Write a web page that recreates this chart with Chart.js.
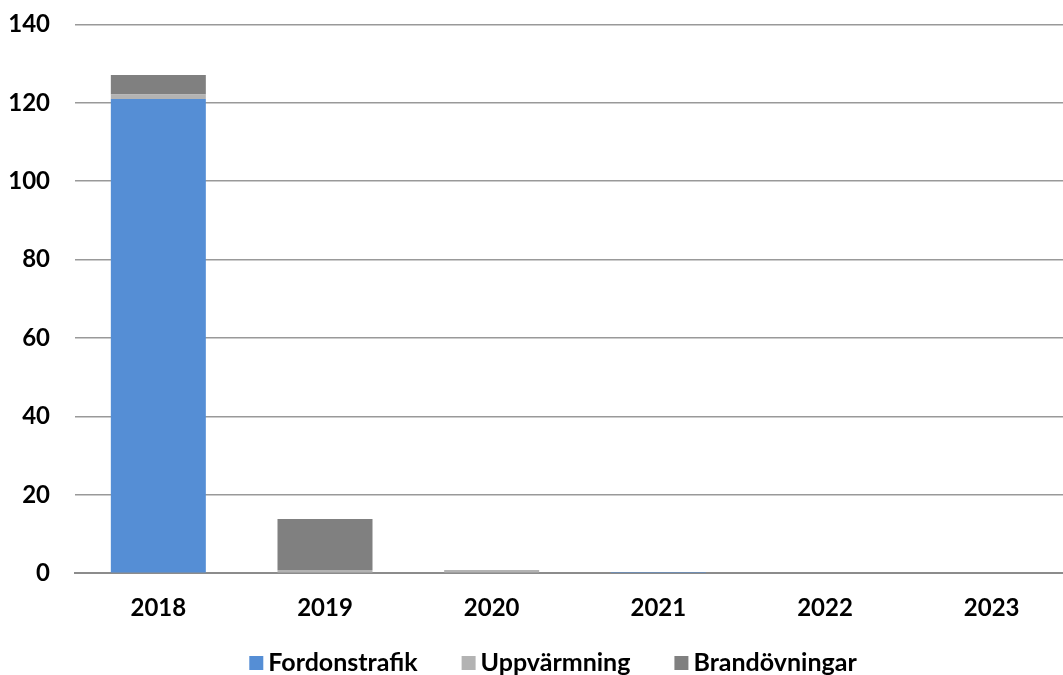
<!DOCTYPE html>
<html>
<head>
<meta charset="utf-8">
<script src="https://cdn.jsdelivr.net/npm/chart.js@4/dist/chart.umd.min.js"></script>
<style>
html,body{margin:0;padding:0;overflow:hidden;background:#fff;}
#wrap{position:absolute;left:0;top:-15px;width:1075px;height:690px;}
</style>
</head>
<body>
<div id="wrap"><canvas id="c"></canvas></div>
<script>
const categories = ["2018","2019","2020","2021","2022","2023"];
const fordonstrafik = [121, 0, 0, 0.3, 0, 0];
const uppvarmning = [1.1, 0.8, 0.8, 0, 0, 0];
const brandovningar = [5, 13, 0, 0, 0, 0];
const seriesNames = ["Fordonstrafik","Uppvärmning","Brandövningar"];
const yTicks = [0,20,40,60,80,100,120,140];

const FONT = "Lato, 'Open Sans', sans-serif";

const bottomLegend = {
  id: 'bottomLegend',
  afterDraw(chart) {
    const ctx = chart.ctx;
    const items = chart.data.datasets.map(d => ({text: d.label, color: d.backgroundColor}));
    const box = 14, gap = 5, spacing = 44, cy = 678;
    ctx.save();
    ctx.font = "bold 25px " + FONT;
    ctx.textBaseline = 'middle';
    ctx.textAlign = 'left';
    const widths = items.map(it => ctx.measureText(it.text).width);
    const total = widths.reduce((a, w) => a + box + gap + w, 0) + spacing * (items.length - 1);
    let x = 553 - total / 2;
    items.forEach((it, i) => {
      ctx.fillStyle = it.color;
      ctx.fillRect(x, cy - box / 2, box, box);
      ctx.fillStyle = '#000';
      ctx.fillText(it.text, x + box + gap, cy);
      x += box + gap + widths[i] + spacing;
    });
    ctx.restore();
  }
};

new Chart(document.getElementById('c'), {
  type: 'bar',
  data: {
    labels: categories,
    datasets: [
      {label: seriesNames[0], data: fordonstrafik, backgroundColor: '#558ed5'},
      {label: seriesNames[1], data: uppvarmning, backgroundColor: '#b3b3b3'},
      {label: seriesNames[2], data: brandovningar, backgroundColor: '#808080'}
    ]
  },
  plugins: [bottomLegend],
  options: {
    responsive: true,
    maintainAspectRatio: false,
    animation: false,
    datasets: {bar: {categoryPercentage: 1, barPercentage: 0.57, borderWidth: 0}},
    layout: {padding: {top: 0, left: 0, right: 0, bottom: 31}},
    plugins: {
      tooltip: {enabled: false},
      legend: {display: false}
    },
    scales: {
      x: {
        stacked: true,
        grid: {display: false, drawTicks: false},
        border: {display: true, color: '#8c8c8c', width: 2},
        ticks: {font: {family: FONT, size: 24, weight: 'bold'}, color: '#000', padding: 21}
      },
      y: {
        stacked: true,
        min: 0, max: 140,
        afterBuildTicks: (ax) => { ax.ticks = yTicks.map(v => ({value: v})); },
        afterFit: (ax) => { ax.width = 75; },
        grid: {color: '#999999', lineWidth: 1.5, drawTicks: false},
        border: {display: false},
        ticks: {font: {family: FONT, size: 24, weight: 'bold'}, color: '#000', padding: 25}
      }
    }
  }
});
</script>
</body>
</html>
